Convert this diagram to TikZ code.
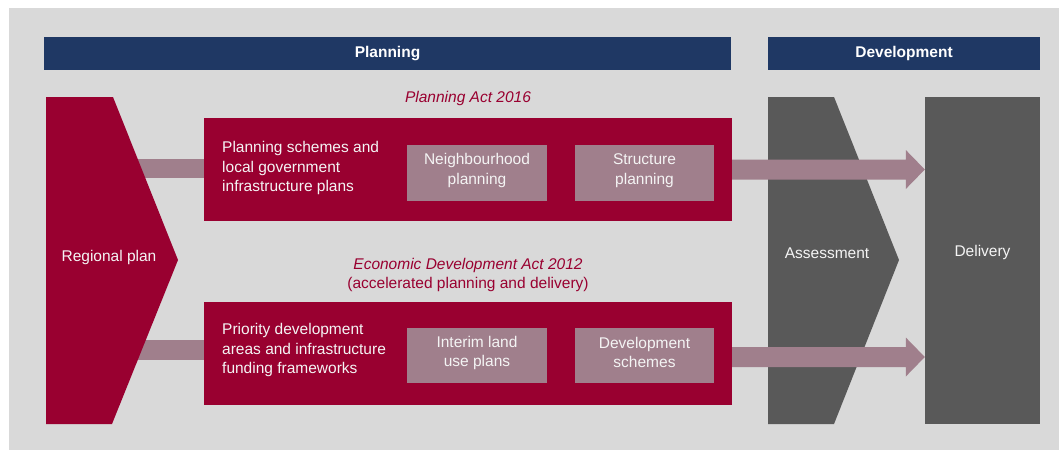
\documentclass[tikz,border=0pt]{standalone}
\usepackage{fontspec}
\setmainfont{Liberation Sans}
\usetikzlibrary{calc}
\definecolor{rpred}{HTML}{990030}
\definecolor{mauve}{HTML}{A07F8C}
\definecolor{darkg}{HTML}{595959}
\definecolor{navy}{HTML}{1F3864}
\definecolor{bgg}{HTML}{D9D9D9}
\definecolor{softw}{HTML}{F4F4F4}
\pgfdeclarelayer{bglayer}
\pgfdeclarelayer{backlayer}
\pgfsetlayers{bglayer,backlayer,main}
\begin{document}
\begin{tikzpicture}[x=1pt,y=-1pt,
  font=\fontsize{15.5}{19.5}\selectfont,
  header/.style={fill=navy, text=white, font=\fontsize{15.5}{19.5}\selectfont\bfseries, inner sep=0pt},
  redbox/.style={fill=rpred, inner sep=0pt, minimum width=528pt, minimum height=103pt},
  innerbox/.style={fill=mauve, inner sep=0pt},
  innertext/.style={text=softw, align=center, inner sep=0pt},
  textw/.style={text=softw, inner sep=0pt},
  actlabel/.style={text=rpred, align=center, font=\fontsize{15.5}{19.5}\selectfont\itshape, inner sep=0pt},
  shaft/.style={fill=mauve}
]
\useasboundingbox (0,0) rectangle (1059,450);
\begin{pgfonlayer}{bglayer}
\fill[white] (0,0) rectangle (1059,450);
\fill[bgg] (9,8) rectangle (1059,450);
\end{pgfonlayer}

% headers
\node[header, minimum width=687pt, minimum height=33pt] (planning) at (387.5,53.5) {Planning};
\node[header, minimum width=272pt, minimum height=33pt] (development) at (904,53.5) {Development};

% regional plan chevron
\fill[rpred] (46,97) -- (113,97) -- (178,260) -- (112,424) -- (46,424) -- cycle;
\node[textw] (regional) at (109,257.5) {Regional plan};

% assessment chevron
\fill[darkg] (768,97) -- (834,97) -- (899,260) -- (834,424) -- (768,424) -- cycle;
\node[textw] (assess) at (827,253.5) {Assessment};

% delivery
\node[fill=darkg, inner sep=0pt, minimum width=115pt, minimum height=327pt] (deliv) at (982.5,260.5) {};
\node[textw] (delivtext) at (982.5,252.5) {Delivery};

% red boxes
\node[redbox] (box1) at (468,169.5) {};
\node[redbox] (box2) at (468,353.5) {};

\node[textw, anchor=west, align=left] (t1text) at (222,168) {Planning schemes and\\local government\\infrastructure plans};
\node[textw, anchor=west, align=left] (t2text) at (222,350) {Priority development\\areas and infrastructure\\funding frameworks};

\node[innerbox, minimum width=140pt, minimum height=56pt] (neigh) at (477,173) {};
\node[innerbox, minimum width=139pt, minimum height=56pt] (struct) at (644.5,173) {};
\node[innerbox, minimum width=140pt, minimum height=55pt] (interim) at (477,355.5) {};
\node[innerbox, minimum width=139pt, minimum height=55pt] (devsch) at (644.5,355.5) {};
\node[innertext] (neightext) at ($(neigh.center)+(0,-2.5)$) {Neighbourhood\\planning};
\node[innertext] (structtext) at ($(struct.center)+(0,-2.5)$) {Structure\\planning};
\node[innertext] (interimtext) at ($(interim.center)+(0,-2.5)$) {Interim land\\use plans};
\node[innertext] (devschtext) at ($(devsch.center)+(0,-3)$) {Development\\schemes};

% act labels
\node[actlabel] (act1) at (468,98) {Planning Act 2016};
\node[actlabel] (act2) at (468,275) {Economic Development Act 2012\\\upshape(accelerated planning and delivery)};

% shafts from regional plan to boxes
\begin{pgfonlayer}{backlayer}
\fill[shaft] ($(regional.center |- box1.west)+(0,-10.5)$) rectangle ($(box1.west)+(0,8.5)$);
\fill[shaft] ($(regional.center |- box2.west)+(0,-13.5)$) rectangle ($(box2.west)+(0,6.5)$);
\end{pgfonlayer}

% block arrows to delivery
\coordinate (s1) at (box1.east);
\coordinate (e1) at (deliv.west |- s1);
\fill[shaft] ($(s1)+(0,-10)$) -- ($(e1)+(-19,-10)$) -- ($(e1)+(-19,-19.5)$) -- (e1)
  -- ($(e1)+(-19,19.5)$) -- ($(e1)+(-19,10)$) -- ($(s1)+(0,10)$) -- cycle;
\coordinate (s2) at ($(box2.east)+(0,3.5)$);
\coordinate (e2) at (deliv.west |- s2);
\fill[shaft] ($(s2)+(0,-10)$) -- ($(e2)+(-19,-10)$) -- ($(e2)+(-19,-19.5)$) -- (e2)
  -- ($(e2)+(-19,19.5)$) -- ($(e2)+(-19,10)$) -- ($(s2)+(0,10)$) -- cycle;
\end{tikzpicture}
\end{document}
